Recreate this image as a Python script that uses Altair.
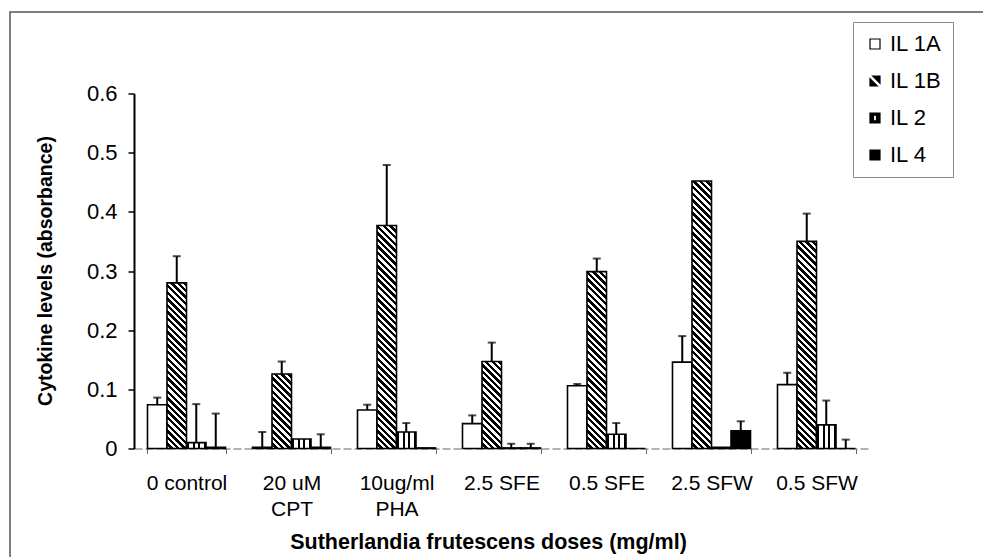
import altair as alt
import pandas as pd

groups = ["0 control", "20 uM CPT", "10ug/ml PHA", "2.5 SFE", "0.5 SFE", "2.5 SFW", "0.5 SFW"]
series = ["IL 1A", "IL 1B", "IL 2", "IL 4"]

il1a = [0.074, 0.002, 0.065, 0.042, 0.106, 0.146, 0.108]
il1a_top = [0.086, 0.028, 0.074, 0.056, 0.109, 0.190, 0.128]
il1b = [0.280, 0.126, 0.377, 0.147, 0.299, 0.452, 0.350]
il1b_top = [0.325, 0.147, 0.479, 0.179, 0.321, 0.452, 0.397]
il2 = [0.010, 0.016, 0.028, 0.001, 0.024, 0.002, 0.040]
il2_top = [0.075, 0.016, 0.043, 0.008, 0.043, 0.002, 0.081]
il4 = [0.002, 0.002, 0.001, 0.001, 0.000, 0.030, 0.000]
il4_top = [0.059, 0.024, 0.001, 0.008, 0.000, 0.046, 0.015]

y_ticks = [0, 0.1, 0.2, 0.3, 0.4, 0.5, 0.6]

rows = []
for s, vals, tops in [("IL 1A", il1a, il1a_top), ("IL 1B", il1b, il1b_top),
                      ("IL 2", il2, il2_top), ("IL 4", il4, il4_top)]:
    for g, v, t in zip(groups, vals, tops):
        rows.append({"group": g, "series": s, "level": v, "top": t})
df = pd.DataFrame(rows)

W, H = 735, 355
FONT = "Liberation Sans"

# diagonal hatch for IL 1B (gradient with sharp stops, constant pixel period)
P, U = 6.6, 320.0
stops = []
k = 0
while k * P < U:
    a = k * P / U
    b = min((k * P + P / 2) / U, 1.0)
    c = min((k + 1) * P / U, 1.0)
    stops += [(a, "white"), (b, "white"), (b, "black"), (c, "black")]
    k += 1
stops_str = "[" + ",".join("{offset:%.5f,color:'%s'}" % (o, col) for o, col in stops) + "]"
wexp = "bandwidth('xOffset')"
hexp = "(scale('y',0)-scale('y',datum.level))"
den = f"({wexp}*{wexp}+{hexp}*{hexp})"
hatch_expr = (f"{{gradient:'linear',x1:0,y1:1,x2:{U}*{wexp}/{den},"
              f"y2:1-{U}*{hexp}/{den},stops:{stops_str}}}")

# vertical stripes for IL 2
vstripes = {
    "gradient": "linear", "x1": 0, "y1": 0, "x2": 1, "y2": 0,
    "stops": [
        {"offset": 0, "color": "black"}, {"offset": 0.12, "color": "black"},
        {"offset": 0.12, "color": "white"}, {"offset": 0.31, "color": "white"},
        {"offset": 0.31, "color": "black"}, {"offset": 0.44, "color": "black"},
        {"offset": 0.44, "color": "white"}, {"offset": 0.58, "color": "white"},
        {"offset": 0.58, "color": "black"}, {"offset": 0.71, "color": "black"},
        {"offset": 0.71, "color": "white"}, {"offset": 0.88, "color": "white"},
        {"offset": 0.88, "color": "black"}, {"offset": 1, "color": "black"},
    ],
}

x_enc = alt.X(
    "group:N", sort=groups,
    scale=alt.Scale(domain=groups, paddingInner=0.257, paddingOuter=0.1285),
    axis=alt.Axis(
        title="Sutherlandia frutescens doses (mg/ml)", labelAngle=0,
        labelExpr="datum.value == '20 uM CPT' ? ['20 uM', 'CPT'] : datum.value == '10ug/ml PHA' ? ['10ug/ml', 'PHA'] : datum.value",
        labelFontSize=21, labelColor="black", labelPadding=19, labelLineHeight=26,
        tickBand="extent", tickSize=5, tickColor="#666", tickWidth=1,
        domainColor="#666", domainWidth=1.2, domainDash=[8, 3],
        titleFontSize=21.5, titleFontWeight="bold", titleColor="black",
        titleX=354, titleY=100, titleBaseline="alphabetic",
    ),
)
xo_enc = alt.XOffset("series:N", sort=series,
                     scale=alt.Scale(domain=series, paddingInner=0, paddingOuter=0))
y_enc = alt.Y(
    "level:Q", stack=None,
    scale=alt.Scale(domain=[0, 0.6], nice=False),
    axis=alt.Axis(
        values=y_ticks, format="~g", grid=False,
        tickSize=6, tickWidth=1.5, tickColor="black",
        domainWidth=2, domainColor="black",
        labelFontSize=22, labelColor="black", labelPadding=11,
        title="Cytokine levels (absorbance)", titleFontSize=19.5,
        titleFontWeight="bold", titleColor="black",
        titleX=-89, titleY=177, titleAngle=-90, titleBaseline="middle",
    ),
)

base = alt.Chart(df)

bar_kw = dict(stroke="black", strokeWidth=1.6)
bars_1a = base.transform_filter("datum.series == 'IL 1A'").mark_bar(fill="white", **bar_kw).encode(
    x=x_enc, xOffset=xo_enc, y=y_enc)
bars_1b = base.transform_filter("datum.series == 'IL 1B'").mark_bar(**bar_kw).encode(
    x=x_enc, xOffset=xo_enc, y=y_enc, fill=alt.value({"expr": hatch_expr}))
bars_2 = base.transform_filter("datum.series == 'IL 2'").mark_bar(fill=vstripes, **bar_kw).encode(
    x=x_enc, xOffset=xo_enc, y=y_enc)
bars_4 = base.transform_filter("datum.series == 'IL 4'").mark_bar(fill="black", **bar_kw).encode(
    x=x_enc, xOffset=xo_enc, y=y_enc)

err = base.transform_filter("datum.top > datum.level").mark_rule(color="black", strokeWidth=2).encode(
    x=x_enc, xOffset=xo_enc, y=y_enc, y2="top:Q")
caps = base.transform_filter("datum.top > datum.level").mark_tick(
    color="black", thickness=2, size=8, orient="horizontal").encode(
    x=x_enc, xOffset=xo_enc, y=alt.Y("top:Q"))

paths = [
    "M-1,-1H1V1H-1Z",
    "M-0.45,-1L1,-1L1,0.45Z M-1,-0.45L0.45,1L-1,1Z",
    "M-1,-1H1V1H-1Z M-0.3,-0.55V0.55H0.3V-0.55Z",
    "M-1,-1H1V1H-1Z",
]
leg = alt.Legend(title=None, orient="none", legendX=719, legendY=-71.5,
                 strokeColor="#888", padding=11, fillColor="white",
                 labelFontSize=22, labelColor="black", labelOffset=4,
                 rowPadding=15, symbolSize=100, symbolStrokeWidth=1.2,
                 symbolOpacity=1)
legend_layer = base.mark_point(filled=False, size=0, opacity=1, strokeWidth=1.2).encode(
    x=x_enc, xOffset=xo_enc, y=y_enc,
    fill=alt.Fill("series:N", sort=series,
                  scale=alt.Scale(domain=series, range=["white", "black", "black", "black"]),
                  legend=leg),
    stroke=alt.Stroke("series:N", sort=series,
                      scale=alt.Scale(domain=series, range=["black", "black", "black", "black"]),
                      legend=leg),
    shape=alt.Shape("series:N", sort=series,
                    scale=alt.Scale(domain=series, range=paths), legend=leg),
)

frame = alt.Chart(pd.DataFrame({"k": [0]})).mark_rect(
    fill=None, stroke="#555", strokeWidth=1.5).encode(
    x=alt.value(-124), x2=alt.value(920), y=alt.value(-81.5), y2=alt.value(520))

chart = alt.layer(
    frame, bars_1a, bars_1b, bars_2, bars_4, err, caps, legend_layer
).properties(
    width=W, height=H,
    padding={"left": 126, "top": 85.5, "right": 114, "bottom": 108},
    autosize=alt.AutoSizeParams(type="none"),
).configure(font=FONT).configure_view(stroke=None)

chart.save("out.html", embed_options={"renderer": "svg", "actions": False})
